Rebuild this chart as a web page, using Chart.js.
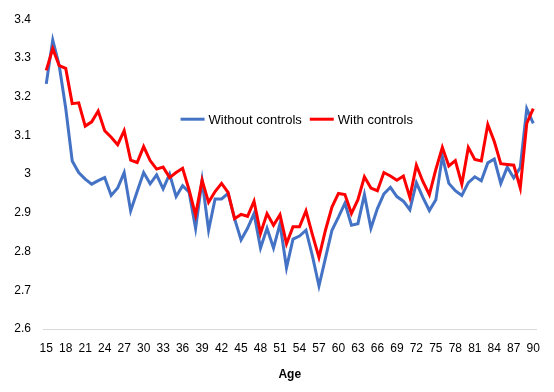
<!DOCTYPE html>
<html>
<head>
<meta charset="utf-8">
<script src="https://cdn.jsdelivr.net/npm/chart.js@4.4.0/dist/chart.umd.min.js"></script>
<style>
    html, body { margin: 0; padding: 0; background: #fff; }
    #wrap { width: 554px; height: 392px; }
</style>
</head>
<body>
<div id="wrap"><canvas id="ageChart" width="554" height="392"></canvas></div>
<script>
/* 나이 15 ~ 90 */
const ages = [];
for (let a = 15; a <= 90; a++) ages.push(a);

const withoutControls = [
    3.233, 3.346, 3.280, 3.170, 3.034, 3.004, 2.987, 2.974, 2.983, 2.991,
    2.945, 2.964, 3.004, 2.905, 2.955, 3.004, 2.975, 2.998, 2.962, 3.000,
    2.942, 2.970, 2.953, 2.860, 2.984, 2.855, 2.936, 2.936, 2.950, 2.885,
    2.830, 2.860, 2.898, 2.809, 2.860, 2.809, 2.872, 2.758, 2.832, 2.840,
    2.855, 2.788, 2.711, 2.783, 2.855, 2.889, 2.925, 2.868, 2.872, 2.947,
    2.860, 2.911, 2.949, 2.966, 2.942, 2.930, 2.908, 2.978, 2.940, 2.906,
    2.934, 3.046, 2.976, 2.957, 2.945, 2.978, 2.993, 2.983, 3.029, 3.039,
    2.976, 3.018, 2.990, 3.017, 3.169, 3.131
];

const withControls = [
    3.268, 3.324, 3.280, 3.273, 3.182, 3.184, 3.124, 3.135, 3.163, 3.112,
    3.095, 3.076, 3.112, 3.036, 3.030, 3.071, 3.035, 3.013, 3.018, 2.991,
    3.004, 3.015, 2.959, 2.894, 2.984, 2.927, 2.955, 2.976, 2.953, 2.885,
    2.896, 2.891, 2.930, 2.847, 2.898, 2.868, 2.895, 2.820, 2.864, 2.864,
    2.905, 2.843, 2.785, 2.855, 2.915, 2.950, 2.947, 2.898, 2.934, 2.993,
    2.964, 2.957, 3.004, 2.995, 2.984, 2.995, 2.940, 3.023, 2.981, 2.947,
    3.012, 3.069, 3.021, 3.035, 2.974, 3.069, 3.038, 3.034, 3.128, 3.084,
    3.027, 3.025, 3.023, 2.964, 3.131, 3.169
];

const fontFamily = '"Liberation Sans", Arial, sans-serif';

/* 차트 안쪽 범례 */
const innerLegend = {
    id: 'innerLegend',
    afterDraw(chart) {
        const c = chart.ctx;
        const area = chart.chartArea;
        const items = chart.data.datasets;
        c.save();
        c.font = '13px ' + fontFamily;
        c.textBaseline = 'middle';
        const lineLen = 24, gap = 4, itemGap = 8;
        let total = 0;
        items.forEach(ds => { total += lineLen + gap + c.measureText(ds.label).width; });
        total += itemGap * (items.length - 1);
        let x = (area.left + area.right) / 2 + 7 - total / 2;
        const y = area.top + 100;
        items.forEach(ds => {
            c.strokeStyle = ds.borderColor;
            c.lineWidth = 3;
            c.beginPath();
            c.moveTo(x, y);
            c.lineTo(x + lineLen, y);
            c.stroke();
            x += lineLen + gap;
            c.fillStyle = '#000';
            c.fillText(ds.label, x, y + 1);
            x += c.measureText(ds.label).width + itemGap;
        });
        c.restore();
    }
};

const ctx = document.getElementById('ageChart').getContext('2d');

new Chart(ctx, {
    type: 'line',
    data: {
        labels: ages,
        datasets: [{
            label: 'Without controls',
            data: withoutControls,
            borderColor: '#4472C4',
            borderWidth: 3,
            pointRadius: 0,
            tension: 0,
            order: 2
        }, {
            label: 'With controls',
            data: withControls,
            borderColor: '#FF0000',
            borderWidth: 3,
            pointRadius: 0,
            tension: 0,
            order: 1
        }]
    },
    options: {
        responsive: false,
        animation: false,
        layout: {
            padding: { top: 6, right: 12, bottom: 11, left: 0 }
        },
        plugins: {
            legend: { display: false },
            tooltip: { enabled: false }
        },
        scales: {
            x: {
                offset: true,
                grid: { display: false, drawTicks: false },
                border: { display: true, color: '#d9d9d9', width: 1 },
                ticks: {
                    autoSkip: false,
                    maxRotation: 0,
                    padding: 14,
                    color: '#000',
                    font: { family: fontFamily, size: 12, lineHeight: 1 },
                    callback: function(value, index) {
                        const age = ages[index];
                        return (age - 15) % 3 === 0 ? String(age) : '';
                    }
                },
                title: {
                    display: true,
                    text: 'Age',
                    color: '#000',
                    font: { family: fontFamily, size: 12, weight: 'bold', lineHeight: 1 },
                    padding: { top: 0, bottom: 0 }
                }
            },
            y: {
                min: 2.6,
                max: 3.4,
                grid: { display: false, drawTicks: false },
                border: { display: false },
                afterFit: function(scale) { scale.width = 43; },
                ticks: {
                    stepSize: 0.1,
                    padding: 12,
                    color: '#000',
                    font: { family: fontFamily, size: 12 },
                    callback: function(value) {
                        return String(Number(value.toFixed(1)));
                    }
                }
            }
        }
    },
    plugins: [innerLegend]
});
</script>
</body>
</html>
